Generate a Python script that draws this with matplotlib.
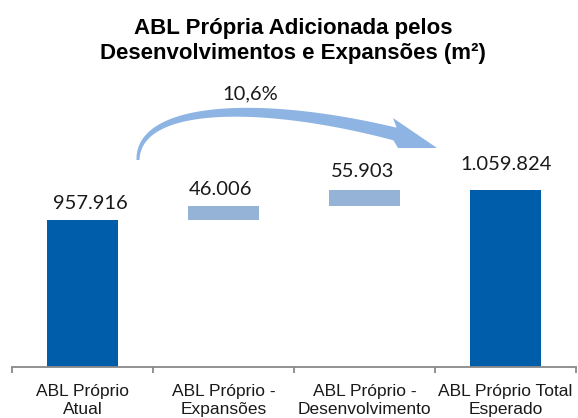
import numpy as np
import matplotlib
matplotlib.use('Agg')
import matplotlib.pyplot as plt
from matplotlib.patches import Polygon

# data
categories = ['ABL Próprio\nAtual', 'ABL Próprio -\nExpansões',
              'ABL Próprio -\nDesenvolvimento', 'ABL Próprio Total\nEsperado']
values = [957916, 46006, 55903, 1059824]
is_total = [True, False, False, True]
value_labels = ['957.916', '46.006', '55.903', '1.059.824']
growth_label = '10,6%'

DARK = '#005DAA'
LIGHT = '#95B3D7'
ARROW = '#8DB4E2'
GRAY = '#898989'

W, H = 578, 418
fig = plt.figure(figsize=(W / 100, H / 100), dpi=100)
ax = fig.add_axes([12 / W, (H - 367) / H, 564 / W, 267 / H])

# waterfall bars
x = np.arange(len(values))
bottoms = []
running = 0
for v, tot in zip(values, is_total):
    if tot:
        bottoms.append(0)
        running = v
    else:
        bottoms.append(running)
        running += v
colors = [DARK if t else LIGHT for t in is_total]
ax.bar(x, values, bottom=bottoms, width=0.5, color=colors)

ax.set_xlim(-0.5, 3.5)
ax.set_ylim(458000, 1365000)

# value labels (offsets in pixels from bar top centre)
offsets = [(8, 16), (-3, 17), (-2, 18), (1, 25)]
for xi, v, b, lab, off in zip(x, values, bottoms, value_labels, offsets):
    ax.annotate(lab, (xi, v + b), xytext=off, textcoords='offset pixels',
                ha='center', va='center', fontsize=14.5, family='Lato', color='#1a1a1a')

# axis styling
for s in ['top', 'right', 'left']:
    ax.spines[s].set_visible(False)
ax.spines['bottom'].set_color(GRAY)
ax.spines['bottom'].set_linewidth(1.3)
ax.set_yticks([])
ax.set_xticks(x)
ax.set_xticklabels(categories, fontsize=12.5, family='Liberation Sans',
                   linespacing=1.3, color='#1a1a1a')
ax.tick_params(axis='x', which='major', length=0, pad=12)
ax.set_xticks(np.arange(-0.5, 4, 1), minor=True)
ax.tick_params(axis='x', which='minor', length=4, width=1.3, color=GRAY, direction='out')

# title
fig.text(0.507, 1 - 41 / H, 'ABL Própria Adicionada pelos\nDesenvolvimentos e Expansões (m²)',
         ha='center', va='center', fontsize=16, fontweight='bold',
         family='Liberation Sans', linespacing=1.2)

# curved growth arrow (pixel geometry, y down)
A = np.array([138, 160.0])
C1 = np.array([138, 104.0])
C2 = np.array([260, 100.0])
B = np.array([395, 134.0])
t = np.linspace(0, 1, 80)[:, None]
pts = (1 - t) ** 3 * A + 3 * t * (1 - t) ** 2 * C1 + 3 * t ** 2 * (1 - t) * C2 + t ** 3 * B
der = 3 * (1 - t) ** 2 * (C1 - A) + 6 * (1 - t) * t * (C2 - C1) + 3 * t ** 2 * (B - C2)
tang = der / np.linalg.norm(der, axis=1)[:, None]
norm = np.column_stack([tang[:, 1], -tang[:, 0]])
wid = (3 + 10 * t[:, 0])[:, None] / 2
upper = pts + norm * wid
lower = pts - norm * wid
head = np.array([[393, 118], [437, 148], [398, 148]])
poly = np.vstack([upper, head, lower[::-1]])
poly_fig = np.column_stack([poly[:, 0] / W, 1 - poly[:, 1] / H])
fig.patches.append(Polygon(poly_fig, closed=True, transform=fig.transFigure,
                           facecolor=ARROW, edgecolor='none'))
fig.text(250 / W, 1 - 94 / H, growth_label, ha='center', va='center',
         fontsize=14.5, family='Lato', color='#1a1a1a')

fig.savefig('out.png', dpi=100)
